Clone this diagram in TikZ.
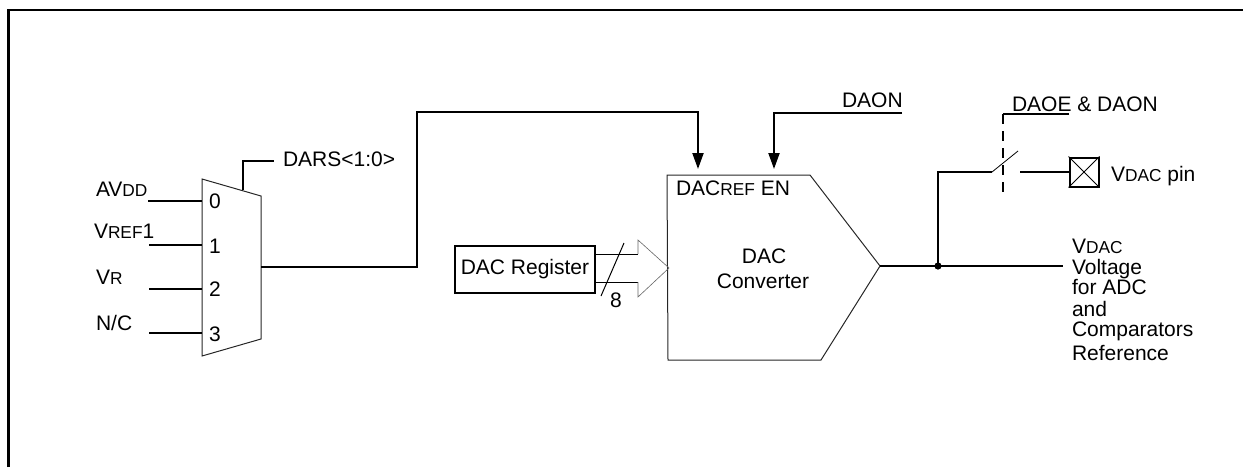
\documentclass[tikz,border=0pt]{standalone}
\usepackage{fontspec}
\setmainfont{Liberation Sans}
\usetikzlibrary{arrows.meta}
\newcommand{\smc}[1]{{\fontsize{17.3}{17.3}\selectfont #1}}
\tikzset{
  x=1pt,y=-1pt,
  wire/.style={line width=2pt,line cap=butt},
  thin outline/.style={line width=1pt,draw=black!85},
  arrowwire/.style={wire,-{Triangle[length=16pt,width=11pt]}},
  lbl/.style={anchor=base west,inner sep=0pt,outer sep=0pt,font=\fontsize{21}{21}\selectfont},
  ctr/.style={anchor=base,inner sep=0pt,outer sep=0pt,font=\fontsize{21}{21}\selectfont},
}
\begin{document}
\begin{tikzpicture}
\useasboundingbox (0,0) rectangle (1243,467);
% frame
\coordinate (fbl) at (8.5,467);
\coordinate (ftl) at (8.5,10);
\coordinate (ftr) at (1243,10);
\draw[line width=2.2pt] (fbl) -- (ftl) -- (ftr);
% multiplexer
\coordinate (m1) at (202,179);
\coordinate (m2) at (261,196);
\coordinate (m3) at (261,339);
\coordinate (m4) at (202,356);
\draw[thin outline] (m1) -- (m2) -- (m3) -- (m4) -- cycle;
\foreach \n/\y/\x in {a/201/148,b/245/149,c/289/149,d/333/149}{
  \coordinate (in\n) at (\x,\y);
  \coordinate (mi\n) at (202,\y);
  \draw[wire] (in\n) -- (mi\n);
}
\node[lbl] (lavdd) at (96,196) {AV\smc{DD}};
\node[lbl] (lvref) at (94,238) {V\smc{REF}1};
\node[lbl] (lvr) at (96,284) {V\smc{R}};
\node[lbl] (lnc) at (96,330) {N/C};
\node[lbl] (d0) at (209,208) {0};
\node[lbl] (d1) at (209,253) {1};
\node[lbl] (d2) at (209,296) {2};
\node[lbl] (d3) at (209,341) {3};
% select
\node[lbl] (dars) at (283,166) {DARS<1:0>};
\coordinate (selb) at (243,190);
\coordinate (selc) at (243,161);
\coordinate (sele) at (274,161);
\draw[wire] (selb) -- (selc) -- (sele);
% converter
\coordinate (c1) at (667,175);
\coordinate (c2) at (810,175);
\coordinate (c3) at (880,266);
\coordinate (c4) at (821,360);
\coordinate (c5) at (668,360);
\draw[thin outline] (c1) -- (c2) -- (c3) -- (c4) -- (c5) -- cycle;
\node[lbl] (dacref) at (676,195) {DAC\smc{REF} EN};
\node[ctr] (dac) at (764,263) {DAC};
\node[ctr] (conv) at (763,288) {Converter};
% reference route
\coordinate (mo) at (261,267);
\coordinate (r1) at (417,267);
\coordinate (r2) at (417,112);
\coordinate (r3) at (698,112);
\coordinate (r4) at (698,169);
\draw[arrowwire] (mo) -- (r1) -- (r2) -- (r3) -- (r4);
% DAON
\node[lbl] (daon) at (842,107) {DAON};
\coordinate (n1) at (902,113);
\coordinate (n2) at (774,113);
\coordinate (n3) at (774,169);
\draw[arrowwire] (n1) -- (n2) -- (n3);
% DAC register
\node[draw,line width=2pt,minimum width=140pt,minimum height=47pt,inner sep=0pt,font=\fontsize{21}{21}\selectfont] (reg) at (525,269.5) {DAC Register};
% bus arrow
\coordinate (b1) at (595,254);
\coordinate (b2) at (638,254);
\coordinate (b3) at (638,240);
\coordinate (b4) at (669,268);
\coordinate (b5) at (638,297);
\coordinate (b6) at (638,282);
\coordinate (b7) at (595,282);
\draw[line width=1pt] (b1) -- (b2);
\draw[line width=1pt] (b7) -- (b6);
\draw[line width=0.6pt,draw=black!60] (b2) -- (b3) -- (b4) -- (b5) -- (b6);
\coordinate (s1) at (624,243);
\coordinate (s2) at (601,296);
\draw[line width=1pt] (s1) -- (s2);
\node[ctr] (eight) at (616,307) {8};
% output
\coordinate (o1) at (880,266);
\coordinate (jn) at (938,266);
\coordinate (o2) at (1063,266);
\draw[wire] (o1) -- (jn) -- (o2);
\fill (jn) circle (3.6pt);
\coordinate (t1) at (938,172);
\coordinate (t2) at (992,172);
\coordinate (t3) at (1018,151);
\draw[wire] (jn) -- (t1) -- (t2);
\draw[line width=0.8pt] (t2) -- (t3);
% pin
\node[draw,line width=2pt,minimum size=29pt,inner sep=0pt] (pin) at (1084,172) {};
\draw[line width=0.8pt] (pin.north west) -- (pin.south east);
\draw[line width=0.8pt] (pin.north east) -- (pin.south west);
\coordinate (t4) at (1020,172);
\draw[wire] (t4) -- (pin.west);
\node[lbl] (pinl) at (1111,181) {V\smc{DAC} pin};
% DAOE control
\node[lbl] (daoe) at (1012,111) {DAOE \& DAON};
\coordinate (e1) at (1069,114);
\coordinate (e2) at (1003,114);
\coordinate (e3) at (1003,192);
\draw[wire] (e1) -- (e2);
\draw[wire,dash pattern=on 10pt off 7pt] (e2) -- (e3);
% output text
\node[lbl] (o_a) at (1072,253) {V\smc{DAC}};
\node[lbl] (o_b) at (1072,274) {Voltage};
\node[lbl] (o_c) at (1072,294) {for ADC};
\node[lbl] (o_d) at (1072,316) {and};
\node[lbl] (o_e) at (1072,336) {Comparators};
\node[lbl] (o_f) at (1072,360) {Reference};
\end{tikzpicture}
\end{document}
